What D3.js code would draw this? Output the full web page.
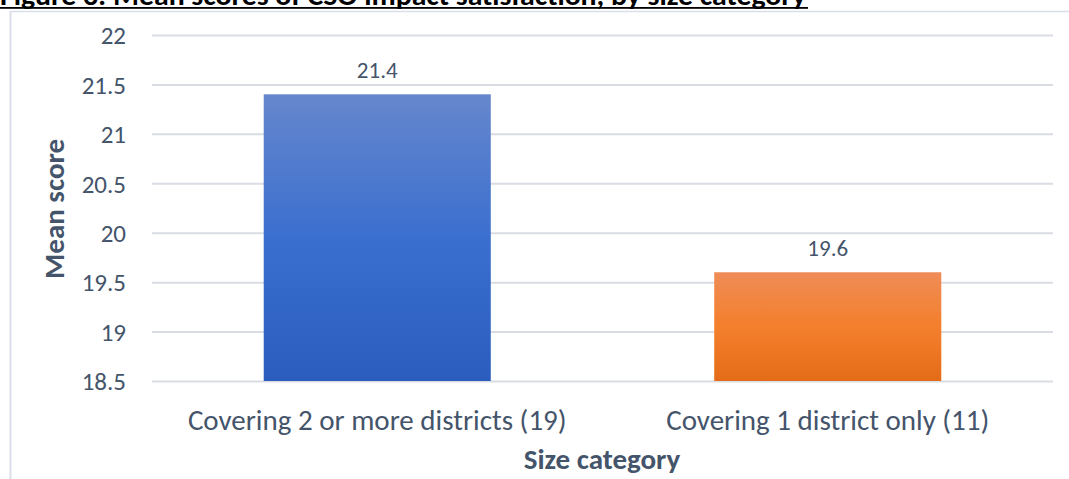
<!DOCTYPE html>
<html><head><meta charset="utf-8">
<script src="https://cdn.jsdelivr.net/npm/d3@7"></script>
<style>body{margin:0;background:#fff;} svg{display:block;font-family:Carlito,Lato,"Open Sans",sans-serif;}</style>
</head><body>
<svg id="c" width="1069" height="479"></svg>
<script>
const categories = ["Covering 2 or more districts (19)", "Covering 1 district only (11)"];
const values = [21.4, 19.6];
const tickValues = [18.5, 19, 19.5, 20, 20.5, 21, 21.5, 22];
const titleText = "Figure 3: Mean scores of CSO impact satisfaction, by size category";
const yTitle = "Mean score";
const xTitle = "Size category";

const svg = d3.select("#c");
const textCol = "#44546a";
const m = {left:152, right:1053, top:35, bottom:381};

// gradients
const defs = svg.append("defs");
const grads = [["gBlue", "#6687cd", "#3b6fcf", "#2a5dbd"], ["gOrange", "#ef8c57", "#f47f2c", "#e46c18"]];
grads.forEach(([id,a,b,c]) => {
  const g = defs.append("linearGradient").attr("id", id).attr("x1",0).attr("y1",0).attr("x2",0).attr("y2",1);
  g.append("stop").attr("offset","0%").attr("stop-color",a);
  g.append("stop").attr("offset","50%").attr("stop-color",b);
  g.append("stop").attr("offset","100%").attr("stop-color",c);
});

// frame
svg.append("line").attr("x1",10.5).attr("x2",10.5).attr("y1",11).attr("y2",479).attr("stroke","#d9dee8").attr("stroke-width",2);
svg.append("line").attr("x1",10).attr("x2",1069).attr("y1",11.5).attr("y2",11.5).attr("stroke","#d9dee8").attr("stroke-width",1.5);

// title (clipped at top in the reference)
svg.append("text").attr("x",0).attr("y",5).attr("font-size",29).attr("font-weight","bold").attr("fill","#000")
  .attr("textLength",806).attr("lengthAdjust","spacingAndGlyphs").text(titleText);
svg.append("rect").attr("x",0).attr("y",7).attr("width",808).attr("height",1.8).attr("fill","#000");

const y = d3.scaleLinear().domain([18.5, 22]).range([m.bottom, m.top]);
const x = d3.scaleBand().domain(categories).range([m.left, m.right]).paddingInner(0.496).paddingOuter(0.248);

// grid
const grid = svg.append("g").attr("transform", `translate(${m.left},0)`)
  .call(d3.axisLeft(y).tickValues(tickValues).tickSize(-(m.right-m.left)).tickFormat(""));
grid.select(".domain").remove();
grid.selectAll("line").attr("stroke","#d9dde3").attr("stroke-width",2);

// y axis labels
const ya = svg.append("g").attr("transform", `translate(126,0)`)
  .call(d3.axisLeft(y).tickValues(tickValues).tickSize(0).tickPadding(0).tickFormat(d3.format("")));
ya.select(".domain").remove();
ya.selectAll("text").attr("font-size",25).attr("fill",textCol).attr("font-family","Carlito,Lato,sans-serif").attr("dy","0.35em");

// bars
svg.selectAll("rect.bar").data(values).enter().append("rect").attr("class","bar")
  .attr("x",(d,i)=>x(categories[i])).attr("width",x.bandwidth())
  .attr("y",d=>y(d)).attr("height",d=>y(18.5)-y(d))
  .attr("fill",(d,i)=>`url(#${grads[i][0]})`);

// value labels
svg.selectAll("text.val").data(values).enter().append("text").attr("class","val")
  .attr("x",(d,i)=>x(categories[i])+x.bandwidth()/2).attr("y",d=>y(d)-16)
  .attr("text-anchor","middle").attr("font-size",23).attr("fill",textCol).text(d=>d.toFixed(1));

// x axis labels
const xa = svg.append("g").attr("transform", `translate(0,${m.bottom})`)
  .call(d3.axisBottom(x).tickSize(0).tickPadding(0));
xa.select(".domain").remove();
xa.selectAll("text").attr("font-size",29).attr("fill",textCol).attr("font-family","Carlito,Lato,sans-serif").attr("dy",0).attr("y",49);

// axis titles
svg.append("text").attr("x",602).attr("y",469).attr("text-anchor","middle")
  .attr("font-size",29).attr("font-weight","bold").attr("fill",textCol).text(xTitle);
svg.append("text").attr("transform","translate(64,209) rotate(-90)").attr("text-anchor","middle")
  .attr("font-size",29).attr("font-weight","bold").attr("fill",textCol).text(yTitle);
</script>
</body></html>
